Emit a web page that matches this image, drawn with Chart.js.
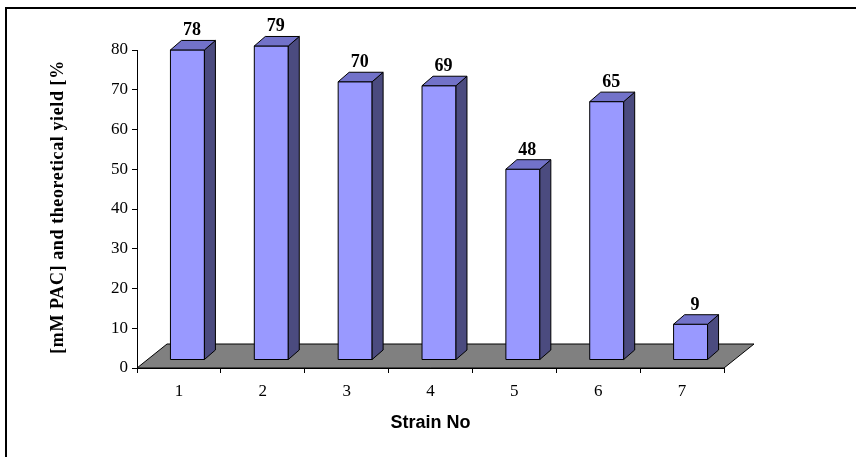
<!DOCTYPE html>
<html>
<head>
<meta charset="utf-8">
<script src="https://cdn.jsdelivr.net/npm/chart.js@4.4.1/dist/chart.umd.min.js"></script>
<style>
  html, body { margin: 0; padding: 0; background: #fff; }
  #wrap { position: relative; width: 856px; height: 457px; overflow: hidden; }
  #frame { position: absolute; left: 5px; top: 7px; width: 900px; height: 500px;
           border-top: 2px solid #000; border-left: 2px solid #000; box-sizing: border-box; }
  canvas { position: absolute; left: 0; top: 0; }
</style>
</head>
<body>
<div id="wrap">
  <div id="frame"></div>
  <canvas id="c" width="856" height="457"></canvas>
</div>
<script>
// Strain numbers and measured yields
const strains = ['1', '2', '3', '4', '5', '6', '7'];
const yieldValues = [78, 79, 70, 69, 48, 65, 9];
const yMin = 0;
const yMax = 80;
const yStep = 10;
const yTitle = '[mM PAC] and theoretical yield [%';
const xTitle = 'Strain No';

// 3D look: offsets of the bar's front face, depth of bars and floor
const FRONT = { dx: 8.5, dy: -8 };
const BAR_DEPTH = { dx: 11, dy: -9.5 };
const FLOOR_DEPTH = { dx: 30, dy: -24 };
const COLORS = { front: '#9999FF', top: '#7272C9', side: '#4B4B7F', floor: '#808080' };

function poly(ctx, pts, fill) {
  ctx.beginPath();
  ctx.moveTo(pts[0][0], pts[0][1]);
  for (let i = 1; i < pts.length; i++) ctx.lineTo(pts[i][0], pts[i][1]);
  ctx.closePath();
  ctx.fillStyle = fill;
  ctx.fill();
  ctx.stroke();
}

const floorPlugin = {
  id: 'floor3d',
  beforeDatasetsDraw(chart) {
    const { ctx, chartArea: a } = chart;
    ctx.save();
    ctx.strokeStyle = '#000';
    ctx.lineWidth = 1;
    poly(ctx, [
      [a.left, a.bottom], [a.right, a.bottom],
      [a.right + FLOOR_DEPTH.dx, a.bottom + FLOOR_DEPTH.dy],
      [a.left + FLOOR_DEPTH.dx, a.bottom + FLOOR_DEPTH.dy]
    ], COLORS.floor);
    ctx.restore();
  }
};

const barsPlugin = {
  id: 'bars3d',
  afterDatasetsDraw(chart) {
    const { ctx } = chart;
    const meta = chart.getDatasetMeta(0);
    ctx.save();
    ctx.strokeStyle = '#000';
    ctx.lineWidth = 1;
    ctx.lineJoin = 'miter';
    meta.data.forEach((el, i) => {
      const p = el.getProps(['x', 'y', 'base', 'width'], true);
      const l = p.x - p.width / 2 + FRONT.dx;
      const r = p.x + p.width / 2 + FRONT.dx;
      const t = p.y + FRONT.dy;
      const b = p.base + FRONT.dy;
      const dx = BAR_DEPTH.dx, dy = BAR_DEPTH.dy;
      poly(ctx, [[l, t], [r, t], [r, b], [l, b]], COLORS.front);
      poly(ctx, [[r, t], [r + dx, t + dy], [r + dx, b + dy], [r, b]], COLORS.side);
      poly(ctx, [[l, t], [r, t], [r + dx, t + dy], [l + dx, t + dy]], COLORS.top);
      // value label above the bar
      ctx.fillStyle = '#000';
      ctx.font = 'bold 18px "Liberation Serif", "Times New Roman", serif';
      ctx.textAlign = 'center';
      ctx.textBaseline = 'alphabetic';
      ctx.fillText(String(yieldValues[i]), (l + r) / 2 + 4.5, t + dy - 5);
    });
    ctx.restore();
  }
};

const yTitlePlugin = {
  id: 'yTitle',
  afterDraw(chart) {
    const { ctx } = chart;
    ctx.save();
    ctx.translate(58, 207);
    ctx.rotate(-Math.PI / 2);
    ctx.font = 'bold 18px "Liberation Serif", "Times New Roman", serif';
    ctx.letterSpacing = '0.6px';
    ctx.fillStyle = '#000';
    ctx.textAlign = 'center';
    ctx.textBaseline = 'middle';
    ctx.fillText(yTitle, 0, 0);
    ctx.restore();
  }
};

const serif = { family: '"Liberation Serif", "Times New Roman", serif', size: 17 };

new Chart(document.getElementById('c'), {
  type: 'bar',
  data: {
    labels: strains,
    datasets: [{
      data: yieldValues,
      backgroundColor: 'rgba(0,0,0,0)',
      borderWidth: 0,
      categoryPercentage: 1,
      barPercentage: 0.405
    }]
  },
  options: {
    responsive: false,
    animation: false,
    devicePixelRatio: 1,
    layout: { padding: { left: 0, top: 50, right: 132, bottom: 0 } },
    plugins: { legend: { display: false }, tooltip: { enabled: false } },
    scales: {
      x: {
        offset: true,
        grid: { offset: true, drawOnChartArea: false, tickLength: 5, color: '#000', tickWidth: 1 },
        border: { display: true, color: '#000', width: 1 },
        ticks: { color: '#000', font: serif, padding: 8, maxRotation: 0 },
        title: {
          display: true, text: xTitle, color: '#000',
          font: { family: '"Liberation Sans", Arial, sans-serif', size: 18, weight: 'bold' },
          padding: { top: 0, bottom: 23 }
        },
        afterFit(scale) { scale.height = 89; }
      },
      y: {
        min: yMin, max: yMax,
        grid: { drawOnChartArea: false, tickLength: 5, color: '#000', tickWidth: 1 },
        border: { display: true, color: '#000', width: 1 },
        ticks: { stepSize: yStep, color: '#000', font: serif, padding: 4 },
        afterFit(scale) { scale.width = 137; }
      }
    }
  },
  plugins: [floorPlugin, barsPlugin, yTitlePlugin]
});
</script>
</body>
</html>
